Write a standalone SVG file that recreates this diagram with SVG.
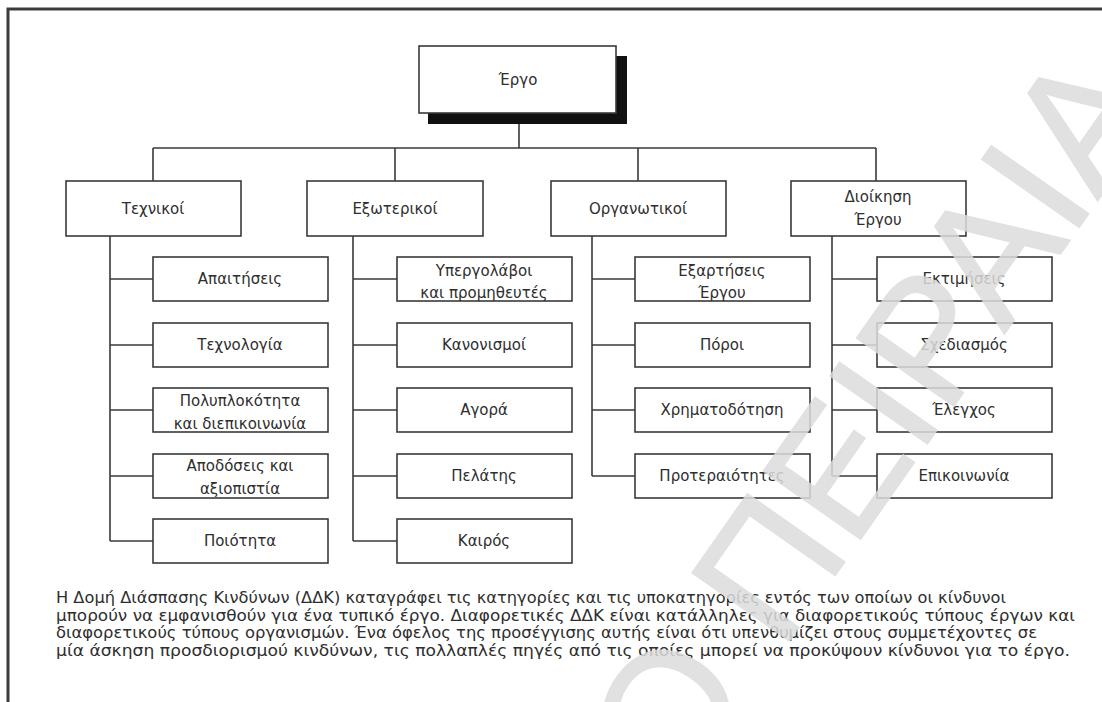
<svg xmlns="http://www.w3.org/2000/svg" width="1102" height="702" viewBox="0 0 1102 702">
<style>
.box{fill:#fff;stroke:#3a3a3a;stroke-width:1.6}
.ln{fill:none;stroke:#3a3a3a;stroke-width:1.6}
.t{font-family:"DejaVu Sans","Liberation Sans",Arial,sans-serif;font-size:15px;fill:#2e2e2e;text-anchor:middle}
.cap{font-family:"DejaVu Sans","Liberation Sans",Arial,sans-serif;font-size:15px;fill:#2e2e2e}
.wm{font-family:"Liberation Sans",Arial,sans-serif;font-size:172px;fill:#dcdcdc;stroke:#dcdcdc;stroke-width:2;opacity:0.85}
</style>
<rect x="0" y="0" width="1102" height="702" fill="#fff"/>
<path d="M8 702 V9 H1102" fill="none" stroke="#3c3c3c" stroke-width="3"/>

<g id="connectors" class="ln">
<path d="M519 124 V148 M153 148 H876 M153 148 V181 M395 148 V181 M638 148 V181 M876 148 V181"/>
<path d="M110 236 V541 M110 279 H153 M110 345 H153 M110 410 H153 M110 476 H153 M110 541 H153"/>
<path d="M353 236 V541 M353 279 H397 M353 345 H397 M353 410 H397 M353 476 H397 M353 541 H397"/>
<path d="M592 236 V476 M592 279 H635 M592 345 H635 M592 410 H635 M592 476 H635"/>
<path d="M832 236 V476 M832 279 H877 M832 345 H877 M832 410 H877 M832 476 H877"/>
</g>

<g id="root">
<rect x="428" y="56" width="199" height="68" fill="#111"/>
<rect class="box" x="419" y="46" width="197" height="67"/>
<text class="t" x="518" y="85">Έργο</text>
</g>

<g id="cat-technikoi"><rect class="box" x="66" y="181" width="175" height="55"/><text class="t" x="153" y="214">Τεχνικοί</text></g>
<g id="cat-exoterikoi"><rect class="box" x="307" y="181" width="176" height="55"/><text class="t" x="395" y="214">Εξωτερικοί</text></g>
<g id="cat-organotikoi"><rect class="box" x="551" y="181" width="175" height="55"/><text class="t" x="638" y="214">Οργανωτικοί</text></g>
<g id="cat-dioikisi"><rect class="box" x="791" y="181" width="175" height="55"/><text class="t" x="878" y="202">Διοίκηση</text><text class="t" x="878" y="225">Έργου</text></g>

<g id="t1"><rect class="box" x="153" y="257" width="175" height="44"/><text class="t" x="240" y="284">Απαιτήσεις</text></g>
<g id="t2"><rect class="box" x="153" y="323" width="175" height="44"/><text class="t" x="240" y="350">Τεχνολογία</text></g>
<g id="t3"><rect class="box" x="153" y="388" width="175" height="44"/><text class="t" x="240" y="406">Πολυπλοκότητα</text><text class="t" x="240" y="429">και διεπικοινωνία</text></g>
<g id="t4"><rect class="box" x="153" y="454" width="175" height="44"/><text class="t" x="240" y="471">Αποδόσεις και</text><text class="t" x="240" y="494">αξιοπιστία</text></g>
<g id="t5"><rect class="box" x="153" y="519" width="175" height="44"/><text class="t" x="240" y="546">Ποιότητα</text></g>

<g id="e1"><rect class="box" x="397" y="257" width="175" height="44"/><text class="t" x="484" y="276">Υπεργολάβοι</text><text class="t" x="484" y="298">και προμηθευτές</text></g>
<g id="e2"><rect class="box" x="397" y="323" width="175" height="44"/><text class="t" x="484" y="350">Κανονισμοί</text></g>
<g id="e3"><rect class="box" x="397" y="388" width="175" height="44"/><text class="t" x="484" y="415">Αγορά</text></g>
<g id="e4"><rect class="box" x="397" y="454" width="175" height="44"/><text class="t" x="484" y="481">Πελάτης</text></g>
<g id="e5"><rect class="box" x="397" y="519" width="175" height="44"/><text class="t" x="484" y="546">Καιρός</text></g>

<g id="o1"><rect class="box" x="635" y="257" width="175" height="44"/><text class="t" x="722" y="276">Εξαρτήσεις</text><text class="t" x="722" y="298">Έργου</text></g>
<g id="o2"><rect class="box" x="635" y="323" width="175" height="44"/><text class="t" x="722" y="350">Πόροι</text></g>
<g id="o3"><rect class="box" x="635" y="388" width="175" height="44"/><text class="t" x="722" y="415">Χρηματοδότηση</text></g>
<g id="o4"><rect class="box" x="635" y="454" width="175" height="44"/><text class="t" x="722" y="481">Προτεραιότητες</text></g>

<g id="d1"><rect class="box" x="877" y="257" width="175" height="44"/><text class="t" x="964" y="284">Εκτιμήσεις</text></g>
<g id="d2"><rect class="box" x="877" y="323" width="175" height="44"/><text class="t" x="964" y="350">Σχεδιασμός</text></g>
<g id="d3"><rect class="box" x="877" y="388" width="175" height="44"/><text class="t" x="964" y="415">Έλεγχος</text></g>
<g id="d4"><rect class="box" x="877" y="454" width="175" height="44"/><text class="t" x="964" y="481">Επικοινωνία</text></g>

<g id="caption" class="cap">
<text x="56" y="603" textLength="950" lengthAdjust="spacingAndGlyphs">Η Δομή Διάσπασης Κινδύνων (ΔΔΚ) καταγράφει τις κατηγορίες και τις υποκατηγορίες εντός των οποίων οι κίνδυνοι</text>
<text x="56" y="621" textLength="1019" lengthAdjust="spacingAndGlyphs">μπορούν να εμφανισθούν για ένα τυπικό έργο. Διαφορετικές ΔΔΚ είναι κατάλληλες για διαφορετικούς τύπους έργων και</text>
<text x="56" y="638" textLength="981" lengthAdjust="spacingAndGlyphs">διαφορετικούς τύπους οργανισμών. Ένα όφελος της προσέγγισης αυτής είναι ότι υπενθυμίζει στους συμμετέχοντες σε</text>
<text x="56" y="656" textLength="1014" lengthAdjust="spacingAndGlyphs">μία άσκηση προσδιορισμού κινδύνων, τις πολλαπλές πηγές από τις οποίες μπορεί να προκύψουν κίνδυνοι για το έργο.</text>
</g>

<g id="watermark" transform="translate(665,712) rotate(-55)">
<text class="wm" x="-66" y="61">Ο ΠΕΙΡΑΙΑ</text>
</g>
</svg>
